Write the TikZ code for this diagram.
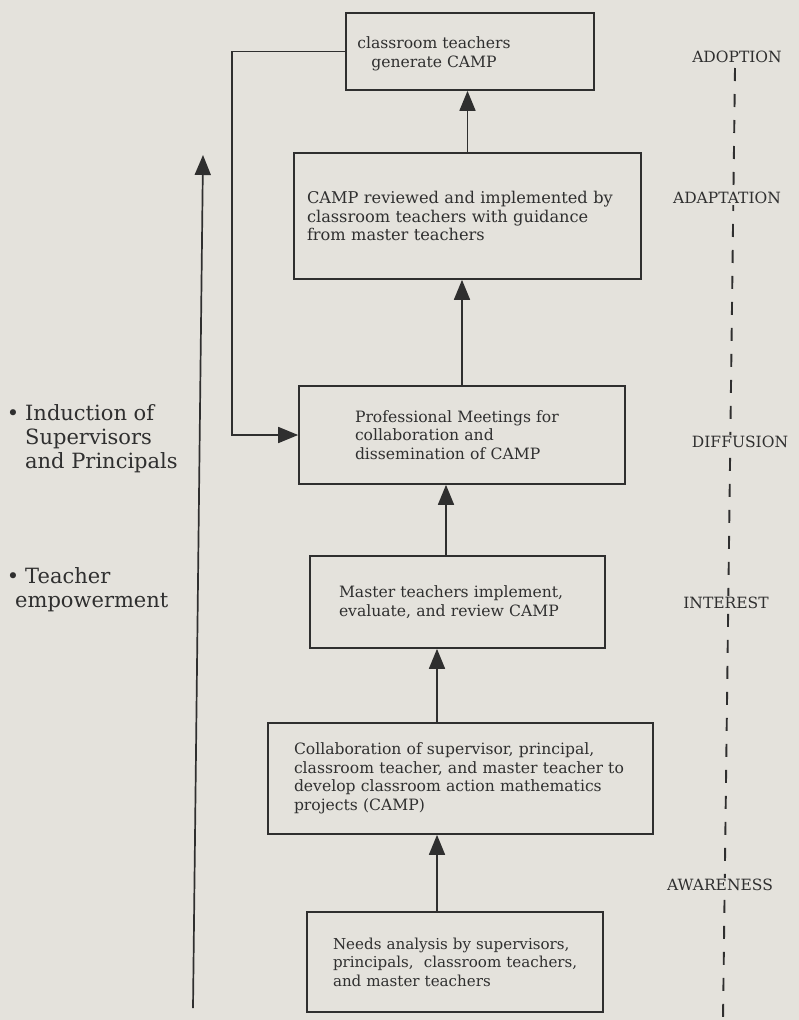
\documentclass[tikz,border=0pt]{standalone}
\usepackage{fontspec}
\setmainfont{DejaVu Serif}
\usepackage{xcolor}
\usepackage{tikz}
\usetikzlibrary{arrows.meta}
\definecolor{papercolor}{HTML}{E4E2DC}
\definecolor{inkcolor}{HTML}{2F2F2F}

\tikzset{
  stagebox/.style={draw=inkcolor, line width=1.7bp, rectangle, inner sep=0pt, text=inkcolor, align=left, font=\fontsize{15.6bp}{18.5bp}\selectfont},
  stagetext/.style={text=inkcolor, align=center, inner sep=0pt, font=\fontsize{15.6bp}{18.5bp}\selectfont},
  flow/.style={draw=inkcolor, line width=1.7bp, -{Triangle[length=20bp,width=16bp]}},
  phaselabel/.style={text=inkcolor, fill=papercolor, inner sep=1.5bp, font=\fontsize{15.5bp}{18bp}\selectfont},
  phaseline/.style={draw=inkcolor, line width=1.9bp, dash pattern=on 13bp off 13bp},
  bullettext/.style={text=inkcolor, align=left, anchor=west, inner sep=0pt, font=\fontsize{21bp}{24bp}\selectfont},
  bulletdot/.style={text=inkcolor, inner sep=0pt, font=\fontsize{21bp}{24bp}\selectfont},
}

\begin{document}
\begin{tikzpicture}[x=1bp, y=-1bp]%
\useasboundingbox[fill=papercolor] (0,0) rectangle (799,1020);%
% stage boxes, top to bottom
\node[stagebox, minimum width=248bp, minimum height=77bp] (generate) at (470,51.5) {};%
\node[stagetext] (generatetext) at (434,54) {classroom teachers\\generate CAMP};%
\node[stagebox, minimum width=347bp, minimum height=126bp, text width=321bp, font=\fontsize{16.2bp}{18.5bp}\selectfont] (reviewed) at (467.5,216) {CAMP reviewed and implemented by\\classroom teachers with guidance\\from master teachers};%
\node[stagebox, minimum width=326bp, minimum height=98bp, text width=214bp] (meetings) at (462,435) {Professional Meetings for\\collaboration and\\dissemination of CAMP};%
\node[stagebox, minimum width=295bp, minimum height=92bp, text width=237bp] (implement) at (457.5,602) {Master teachers implement,\\evaluate, and review CAMP};%
\node[stagebox, minimum width=385bp, minimum height=111bp, text width=333bp] (collab) at (460.5,778.5) {Collaboration of supervisor, principal,\\\mbox{classroom teacher, and master teacher to}\\develop classroom action mathematics\\projects (CAMP)};%
\node[stagebox, minimum width=296bp, minimum height=100bp, text width=244bp, font=\fontsize{15.1bp}{18.5bp}\selectfont] (needs) at (455,962) {Needs analysis by supervisors,\\\mbox{principals,\ \ classroom teachers,}\\and master teachers};%
% arrows between the stages
\draw[flow] (reviewed.north) -- (reviewed.north |- generate.south);%
\draw[flow] (meetings.north) -- (meetings.north |- reviewed.south);%
\draw[flow] ([xshift=-11.5bp]implement.north) -- ([xshift=-11.5bp]implement.north |- meetings.south);%
\draw[flow] ([xshift=-23.5bp]collab.north) -- ([xshift=-23.5bp]collab.north |- implement.south);%
\draw[flow] ([xshift=-18bp]needs.north) -- ([xshift=-18bp]needs.north |- collab.south);%
% feedback and support lines on the left
\coordinate (fbcorner) at (232,240);%
\draw[flow] (generate.west) -| (fbcorner) |- (meetings.west);%
\coordinate (supbase) at (193,1008);%
\coordinate (suptip) at (203,155);%
\draw[flow] (supbase) -- (suptip);%
% phase line and labels
\coordinate (phasetop) at (735,68);%
\coordinate (phasebot) at (723,1020);%
\draw[phaseline] (phasetop) -- (phasebot);%
\node[phaselabel] (adoption) at (737,57) {ADOPTION};%
\node[phaselabel] (adaptation) at (727,198) {ADAPTATION};%
\node[phaselabel] (diffusion) at (740,442) {DIFFUSION};%
\node[phaselabel] (interest) at (726,603) {INTEREST};%
\node[phaselabel] (awareness) at (720,885) {AWARENESS};%
% bullet points
\node[bulletdot] (inductiondot) at (13,415) {•};%
\node[bullettext] (induction) at (25,439) {Induction of\\Supervisors\\and Principals};%
\node[bulletdot] (teacherdot) at (13,578) {•};%
\node[bullettext] (empower) at (15,590) {\hspace*{10bp}Teacher\\empowerment};%
\end{tikzpicture}
\end{document}
